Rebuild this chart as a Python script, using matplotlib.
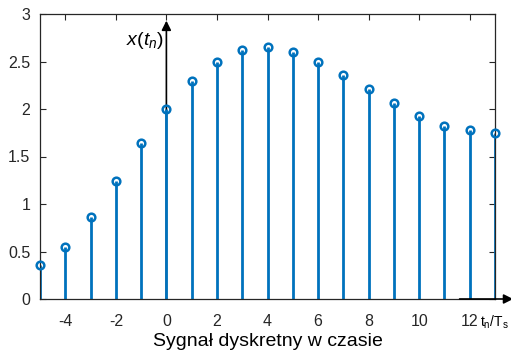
import matplotlib.pyplot as plt
import numpy as np

plt.rcParams['font.family'] = ['Liberation Sans', 'DejaVu Sans']
plt.rcParams['axes.unicode_minus'] = False
plt.rcParams['mathtext.fontset'] = 'custom'
plt.rcParams['mathtext.rm'] = 'Liberation Sans'
plt.rcParams['mathtext.it'] = 'Liberation Sans:italic'

# dane
n = list(range(-5, 14))
x_n = [0.36, 0.55, 0.86, 1.24, 1.64, 2.00, 2.30, 2.50, 2.62, 2.65,
       2.60, 2.50, 2.36, 2.21, 2.06, 1.93, 1.82, 1.78, 1.75]
xticks = [-4, -2, 0, 2, 4, 6, 8, 10, 12]
yticks = [0, 0.5, 1, 1.5, 2, 2.5, 3]

W, H = 511, 356
fig = plt.figure(figsize=(W / 100, H / 100), dpi=100)
ax = fig.add_axes([40 / W, (H - 299) / H, (495 - 40) / W, (299 - 14) / H])

blue = '#0072BD'

# oś x(t_n) ze strzałką
ax.annotate('', xy=(0, 2.93), xytext=(0, 0),
            arrowprops=dict(arrowstyle='-|>', color='black', lw=1.2,
                            mutation_scale=14, shrinkA=0, shrinkB=0),
            zorder=1)

markerline, stemlines, baseline = ax.stem(n, x_n)
plt.setp(stemlines, color=blue, linewidth=2, zorder=2)
plt.setp(markerline, color=blue, marker='o', markersize=5.5,
         markerfacecolor='none', markeredgewidth=1.8, clip_on=False, zorder=3)
baseline.set_visible(False)

ax.set_xlim(-5, 13)
ax.set_ylim(0, 3)
ax.set_xticks(xticks)
ax.set_yticks(yticks)
ax.set_yticklabels(['0', '0.5', '1', '1.5', '2', '2.5', '3'])
ax.tick_params(direction='in', top=True, right=True, labelsize=11.5,
               length=4, width=0.8, colors='#262626')
ax.tick_params(axis='x', pad=11)
ax.tick_params(axis='y', pad=7)
for s in ax.spines.values():
    s.set_linewidth(0.9)
    s.set_color('#262626')

ax.text(-0.1, 2.72, r'$x(t_n)$', fontsize=14, ha='right', va='center')

# strzałka osi czasu
ax.annotate('', xy=(1.04, 0), xytext=(11.6, 0),
            xycoords=('axes fraction', 'data'), textcoords='data',
            arrowprops=dict(arrowstyle='-|>', color='black', lw=1.2,
                            mutation_scale=14, shrinkA=0, shrinkB=0),
            annotation_clip=False)
fig.text(509 / W, 1 - 322 / H, r'$\mathrm{t_n/T_s}$', fontsize=10,
         ha='right', va='center')

ax.set_xlabel('Sygnał dyskretny w czasie', fontsize=14, labelpad=3)

fig.savefig('out.png', dpi=100)
